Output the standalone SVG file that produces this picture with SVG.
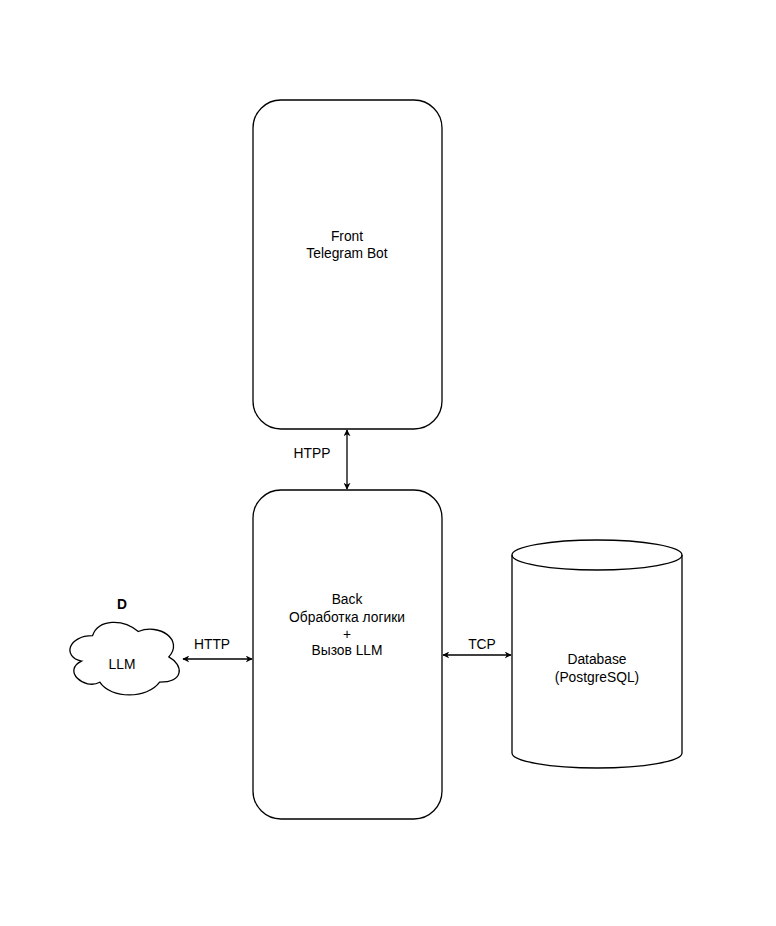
<svg xmlns="http://www.w3.org/2000/svg" width="776" height="926" viewBox="0 0 776 926">
<style>
.s{fill:#fff;stroke:#000;stroke-width:1.3}
.t{font-family:"Liberation Sans",Arial,sans-serif;font-size:13.8px;fill:#000;text-anchor:middle}
.c{fill:none;stroke:#000;stroke-width:1.3}
</style>
<defs>
<marker id="a" viewBox="0 0 10 10" refX="9" refY="5" markerWidth="7" markerHeight="7" orient="auto-start-reverse" markerUnits="userSpaceOnUse">
<path d="M0,0 L10,5 L0,10 L3,5 Z" fill="#000"/>
</marker>
</defs>
<rect width="776" height="926" fill="#fff"/>
<g id="front">
<rect class="s" x="253" y="100" width="189" height="329" rx="28"/>
<text class="t" x="347" y="241">Front</text>
<text class="t" x="347" y="258">Telegram Bot</text>
</g>
<g id="back">
<rect class="s" x="253" y="490" width="189" height="329" rx="28"/>
<text class="t" x="347" y="604">Back</text>
<text class="t" x="347" y="622">Обработка логики</text>
<text class="t" x="347" y="639">+</text>
<text class="t" x="347" y="655">Вызов LLM</text>
</g>
<g id="database">
<path class="s" d="M512,555 A85,15 0 0 1 682,555 L682,753 A85,15 0 0 1 512,753 Z"/>
<path class="c" d="M512,555 A85,15 0 0 0 682,555"/>
<text class="t" x="597" y="664">Database</text>
<text class="t" x="597" y="682">(PostgreSQL)</text>
</g>
<g id="llm">
<path class="s" d="M92.5,635.7 C68.1,635.7 62,656.9 81.5,661.1 C62,670.4 84,690.7 99.8,682.2 C110.8,699.2 147.4,699.2 159.6,682.2 C184,682.2 184,665.3 168.8,656.9 C184,639.9 159.6,623 138.3,631.5 C123,618.7 98.6,618.7 92.5,635.7 Z"/>
<text class="t" x="122" y="669">LLM</text>
</g>
<g id="d">
<text class="t" x="122" y="609" font-weight="bold">D</text>
</g>
<g id="connectors">
<line class="c" x1="347" y1="430" x2="347" y2="489" marker-start="url(#a)" marker-end="url(#a)"/>
<line class="c" x1="183" y1="659" x2="252" y2="659" marker-start="url(#a)" marker-end="url(#a)"/>
<line class="c" x1="443" y1="655" x2="511" y2="655" marker-start="url(#a)" marker-end="url(#a)"/>
<text class="t" x="312" y="458">HTPP</text>
<text class="t" x="212" y="649">HTTP</text>
<text class="t" x="482" y="649">TCP</text>
</g>
</svg>
